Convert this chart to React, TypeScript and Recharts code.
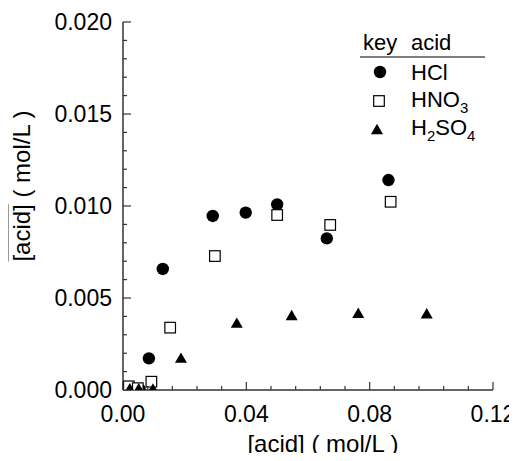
import { ScatterChart, Scatter, XAxis, YAxis, Legend, Label } from 'recharts'

const FONT = '"Liberation Sans", Arial, Helvetica, sans-serif'
const INK = '#000'
const FRAME = '#333'

// tick positions (minor + major) and which ones get a label
const xTicks = [0, 0.008, 0.016, 0.024, 0.032, 0.04, 0.048, 0.056, 0.064, 0.072, 0.08, 0.088, 0.096, 0.104, 0.112, 0.12]
const xLabeled = [0, 0.04, 0.08, 0.12]
const yTicks = [0, 0.001, 0.002, 0.003, 0.004, 0.005, 0.006, 0.007, 0.008, 0.009, 0.01, 0.011, 0.012, 0.013, 0.014, 0.015, 0.016, 0.017, 0.018, 0.019, 0.02]
const yLabeled = [0, 0.005, 0.01, 0.015, 0.02]

// measured points: aqueous [acid] vs organic-phase [acid]
const hclX = [0.0054, 0.0084, 0.0129, 0.0291, 0.0398, 0.05, 0.0661, 0.0861]
const hclY = [0.00003, 0.00172, 0.00658, 0.00946, 0.00964, 0.01009, 0.00824, 0.01141]
const hno3X = [0.0019, 0.0048, 0.0092, 0.0153, 0.0298, 0.05, 0.0672, 0.0868]
const hno3Y = [0.0002, 0.0001, 0.00045, 0.00339, 0.00728, 0.00951, 0.00897, 0.01023]
const h2so4X = [0.0022, 0.0051, 0.0097, 0.0188, 0.0369, 0.0547, 0.0763, 0.0985]
const h2so4Y = [0.0001, 0.0001, 0.00008, 0.00176, 0.00366, 0.00408, 0.0042, 0.00417]

const toPoints = (xs: number[], ys: number[]) => xs.map((x, i) => ({ x, y: ys[i] }))
const hcl = toPoints(hclX, hclY)
const hno3 = toPoints(hno3X, hno3Y)
const h2so4 = toPoints(h2so4X, h2so4Y)

const isIn = (list: number[], v: number) => list.some(m => Math.abs(m - v) < 1e-9)

const Dot = (p: any) => <circle cx={p.cx} cy={p.cy} r={6.2} fill={INK} />
const Box = (p: any) => <rect x={p.cx - 5.3} y={p.cy - 5.3} width={10.6} height={10.6} fill="#fff" stroke={INK} strokeWidth={1.2} />
const Tri = (p: any) => (
  <polygon points={`${p.cx - 6},${p.cy + 5.2} ${p.cx + 6},${p.cy + 5.2} ${p.cx},${p.cy - 5.2}`} fill={INK} />
)

const TICK_FONT = 23
const BOTTOM_GAP = 16
const LEFT_GAP = 11

function makeTick(side: 'bottom' | 'top' | 'left' | 'right', labeled: number[], digits: number) {
  return (props: any) => {
    const { x, y, payload } = props
    const v = payload.value
    const major = isIn(labeled, v)
    const len = major ? 8 : 4
    if (side === 'bottom') {
      const ay = y - BOTTOM_GAP
      return (
        <g>
          <line x1={x} x2={x} y1={ay} y2={ay - len} stroke={FRAME} strokeWidth={1.2} />
          {major && (
            <text x={x} y={y} dy="0.71em" textAnchor="middle" fontSize={TICK_FONT} fontFamily={FONT} fill={INK}>
              {v.toFixed(digits)}
            </text>
          )}
        </g>
      )
    }
    if (side === 'left') {
      const ax = x + LEFT_GAP
      return (
        <g>
          <line x1={ax} x2={ax + len} y1={y} y2={y} stroke={FRAME} strokeWidth={1.2} />
          {major && (
            <text x={x} y={y} dy="0.36em" textAnchor="end" fontSize={TICK_FONT} fontFamily={FONT} fill={INK}>
              {v.toFixed(digits)}
            </text>
          )}
        </g>
      )
    }
    if (side === 'top') {
      return <line x1={x} x2={x} y1={y} y2={y + len} stroke={FRAME} strokeWidth={1.2} />
    }
    return <line x1={x} x2={x - len} y1={y} y2={y} stroke={FRAME} strokeWidth={1.2} />
  }
}

const XTitle = (props: any) => {
  const vb = props.viewBox
  return (
    <text x={vb.x + vb.width / 2 + 15} y={vb.y + 62} textAnchor="middle" fontSize={24} fontFamily={FONT} fill={INK}>
      [acid] ( mol/L )
    </text>
  )
}

const YTitle = (props: any) => {
  const vb = props.viewBox
  const cx = vb.x + 30
  const cy = vb.y + vb.height / 2 - 20
  return (
    <text x={cx} y={cy} transform={`rotate(-90, ${cx}, ${cy})`} textAnchor="middle" fontSize={24} fontFamily={FONT} fill={INK}>
      <tspan style={{ textDecoration: 'overline' }}>[acid]</tspan> ( mol/L )
    </text>
  )
}

const legendHead = ['key', 'acid']

const KeyLegend = () => (
  <svg width={140} height={120} style={{ fontFamily: FONT, display: 'block' }}>
    <text x={8} y={20} fontSize={22} fill={INK}>{legendHead[0]}</text>
    <text x={56} y={20} fontSize={22} fill={INK}>{legendHead[1]}</text>
    <line x1={5} x2={130} y1={27} y2={27} stroke={INK} strokeWidth={1.2} />
    <Dot cx={25} cy={42} />
    <text x={56} y={50} fontSize={22} fill={INK}>HCl</text>
    <Box cx={24} cy={71} />
    <text x={56} y={77} fontSize={22} fill={INK}>
      HNO<tspan fontSize={15} dy={6}>3</tspan>
    </text>
    <Tri cx={22} cy={99} />
    <text x={56} y={105} fontSize={22} fill={INK}>
      H<tspan fontSize={15} dy={6}>2</tspan>
      <tspan dy={-6}>SO</tspan>
      <tspan fontSize={15} dy={6}>4</tspan>
    </text>
  </svg>
)

export default function App() {
  // cancel the default body margin so the chart sits at the page origin
  return (
    <div style={{ margin: -8, width: 517, height: 461 }}>
      <ScatterChart width={517} height={461} margin={{ top: 22, right: 24, bottom: 0, left: 0 }}>
        <XAxis
          dataKey="x"
          type="number"
          domain={[0, 0.12]}
          ticks={xTicks}
          interval={0}
          height={71}
          tickSize={0}
          tickMargin={BOTTOM_GAP}
          axisLine={{ stroke: FRAME, strokeWidth: 1.5 }}
          tickLine={false}
          tick={makeTick('bottom', xLabeled, 2)}
          allowDataOverflow
        >
          <Label content={XTitle} />
        </XAxis>
        <XAxis
          xAxisId="top"
          orientation="top"
          dataKey="x"
          type="number"
          domain={[0, 0.12]}
          ticks={xTicks}
          interval={0}
          height={0}
          tickSize={0}
          tickMargin={0}
          axisLine={{ stroke: FRAME, strokeWidth: 1.5 }}
          tickLine={false}
          tick={makeTick('top', xLabeled, 2)}
          allowDataOverflow
        />
        <YAxis
          dataKey="y"
          type="number"
          domain={[0, 0.02]}
          ticks={yTicks}
          interval={0}
          width={123}
          tickSize={0}
          tickMargin={LEFT_GAP}
          axisLine={{ stroke: FRAME, strokeWidth: 1.5 }}
          tickLine={false}
          tick={makeTick('left', yLabeled, 3)}
          allowDataOverflow
        >
          <Label content={YTitle} />
        </YAxis>
        <YAxis
          yAxisId="right"
          orientation="right"
          dataKey="y"
          type="number"
          domain={[0, 0.02]}
          ticks={yTicks}
          interval={0}
          width={0}
          tickSize={0}
          tickMargin={0}
          axisLine={{ stroke: FRAME, strokeWidth: 1.5 }}
          tickLine={false}
          tick={makeTick('right', yLabeled, 3)}
          allowDataOverflow
        />
        <Legend
          verticalAlign="middle"
          align="center"
          layout="horizontal"
          content={KeyLegend}
          wrapperStyle={{ position: 'absolute', left: 355, top: 30, width: 140, height: 120 }}
        />
        <Scatter name="HCl" data={hcl} shape={Dot} isAnimationActive={false} />
        <Scatter name="HNO3" data={hno3} shape={Box} isAnimationActive={false} />
        <Scatter name="H2SO4" data={h2so4} shape={Tri} isAnimationActive={false} />
      </ScatterChart>
    </div>
  )
}
